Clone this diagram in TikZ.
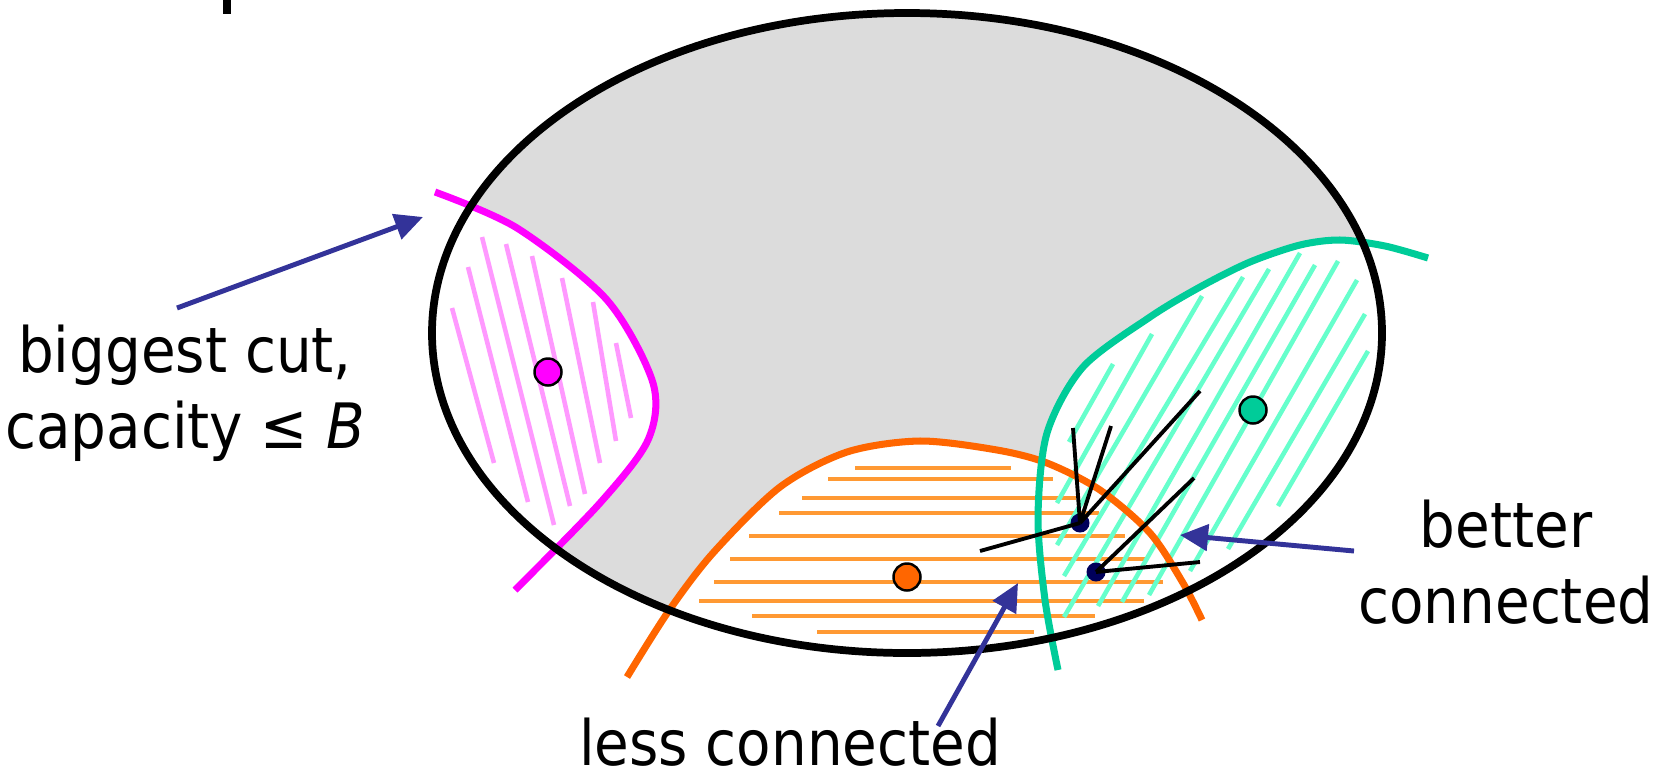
\documentclass[tikz,border=0pt]{standalone}
\usepackage{fontspec}
\setmainfont{DejaVu Sans Condensed}
\usepackage{tikz}
\usetikzlibrary{arrows.meta}
\definecolor{fondogris}{RGB}{220,220,220}
\definecolor{cortemag}{RGB}{255,0,255}
\definecolor{cortemagclaro}{RGB}{255,153,255}
\definecolor{menosnar}{RGB}{255,102,0}
\definecolor{menosnarclaro}{RGB}{255,153,51}
\definecolor{mejorverde}{RGB}{0,204,153}
\definecolor{mejorverdeclaro}{RGB}{102,255,204}
\definecolor{flechaazul}{RGB}{51,51,153}
\definecolor{nodoazul}{RGB}{0,0,90}

\begin{document}
\begin{tikzpicture}[x=0.01cm, y=-0.01cm,
    curva/.style={line width=2pt},
    rayado/.style={line width=1.3pt},
    arista/.style={line width=1.1pt, black},
    flecha/.style={-{Triangle[length=0.28cm, width=0.26cm]}, line width=1.4pt, flechaazul},
    punto/.style={circle, draw=black, line width=0.7pt, minimum size=0.27cm, inner sep=0pt},
    vertice/.style={circle, fill=nodoazul, minimum size=0.19cm, inner sep=0pt},
    etiqueta/.style={align=center, font=\fontsize{17.8}{21.5}\selectfont, inner sep=0pt, anchor=base}
]
\useasboundingbox (0,0) rectangle (1664,775);

% trozo de letra cortado arriba
\draw[line width=2pt] (227,0) -- (227,14);

% interior gris y regiones blancas
\fill[fondogris] (907,333) ellipse (475 and 320);
\begin{scope}
  \clip (907,333) ellipse (475 and 320);
  \fill[white] plot[smooth] coordinates {(435,192) (517,228) (607,300) (653,383) (648,440) (600,503) (515,590)} -- (300,620) -- (300,150) -- cycle;
  \fill[white] plot[smooth] coordinates {(627,677) (668,612) (713,553) (780,487) (847,452) (920,441) (997,450) (1047,463) (1100,490) (1150,533) (1183,583) (1202,620)} -- (1202,700) -- (627,700) -- cycle;
  \fill[white] plot[smooth] coordinates {(1058,670) (1045,600) (1038,517) (1047,433) (1083,367) (1150,317) (1200,287) (1250,262) (1300,245) (1340,240) (1385,246) (1428,258)} -- (1500,700) -- cycle;
\end{scope}

% rayados
\foreach \xa/\ya/\xb/\yb in {452/308/494/463, 468/267/528/502, 482/237/554/525, 506/244/570/506, 532/256/585/494, 562/278/600/463, 593/302/616/441, 616/343/631/418}
  \draw[rayado, cortemagclaro] (\xa,\ya) -- (\xb,\yb);
\foreach \y/\xa/\xb in {468/855/1011, 479/828/1053, 498/802/1076, 513/779/1099, 536/749/1125, 559/730/1148, 582/714/1163, 601/699/1144, 616/752/1095, 632/817/1034}
  \draw[rayado, menosnarclaro] (\xa,\y) -- (\xb,\y);
\foreach \xa/\ya/\xb/\yb in {1113/364/1069/442, 1152/334/1057/503, 1202/296/1057/545, 1243/277/1064/576, 1269/269/1064/617, 1300/253/1098/606, 1315/265/1122/602, 1338/261/1149/595, 1357/280/1190/571, 1365/314/1228/549, 1368/351/1278/506}
  \draw[rayado, mejorverdeclaro] (\xa,\ya) -- (\xb,\yb);

% cortes
\draw[curva, cortemag] plot[smooth] coordinates {(435,192) (517,228) (607,300) (653,383) (648,440) (600,503) (515,590)};
\draw[curva, menosnar] plot[smooth] coordinates {(627,677) (668,612) (713,553) (780,487) (847,452) (920,441) (997,450) (1047,463) (1100,490) (1150,533) (1183,583) (1202,620)};
\draw[curva, mejorverde] plot[smooth] coordinates {(1058,670) (1045,600) (1038,517) (1047,433) (1083,367) (1150,317) (1200,287) (1250,262) (1300,245) (1340,240) (1385,246) (1428,258)};

\draw[curva, line width=2.2pt] (907,333) ellipse (475 and 320);

% puntos
\node[punto, fill=cortemag] (pmag) at (548,372) {};
\node[punto, fill=menosnar] (pnar) at (907,577) {};
\node[punto, fill=mejorverde] (pver) at (1253,410) {};

% aristas
\node[vertice] (v1) at (1080,523) {};
\node[vertice] (v2) at (1096,572) {};
\coordinate (a1) at (1073,428);
\coordinate (a2) at (1111,426);
\coordinate (a3) at (1200,391);
\coordinate (a4) at (980,551);
\coordinate (a5) at (1194,478);
\coordinate (a6) at (1200,562);
\foreach \a in {a1,a2,a3,a4}
  \draw[arista] (v1.center) -- (\a);
\foreach \a in {a5,a6}
  \draw[arista] (v2.center) -- (\a);

% etiquetas
\node[etiqueta] (cutlbl) at (185,448) {biggest cut,\\capacity ≤ \textit{B}};
\node[etiqueta] (betterlbl) at (1506,623) {better\\connected};
\node[etiqueta] (lesslbl) at (790,765) {less connected};

\coordinate (cutcola) at (177,308);
\coordinate (cutpunta) at (423,217);
\coordinate (lesscola) at (938,726);
\coordinate (lesspunta) at (1018,583);
\coordinate (bettercola) at (1354,551);
\coordinate (betterpunta) at (1180,535);
\draw[flecha] (cutcola) -- (cutpunta);
\draw[flecha] (lesscola) -- (lesspunta);
\draw[flecha] (bettercola) -- (betterpunta);
\end{tikzpicture}
\end{document}
